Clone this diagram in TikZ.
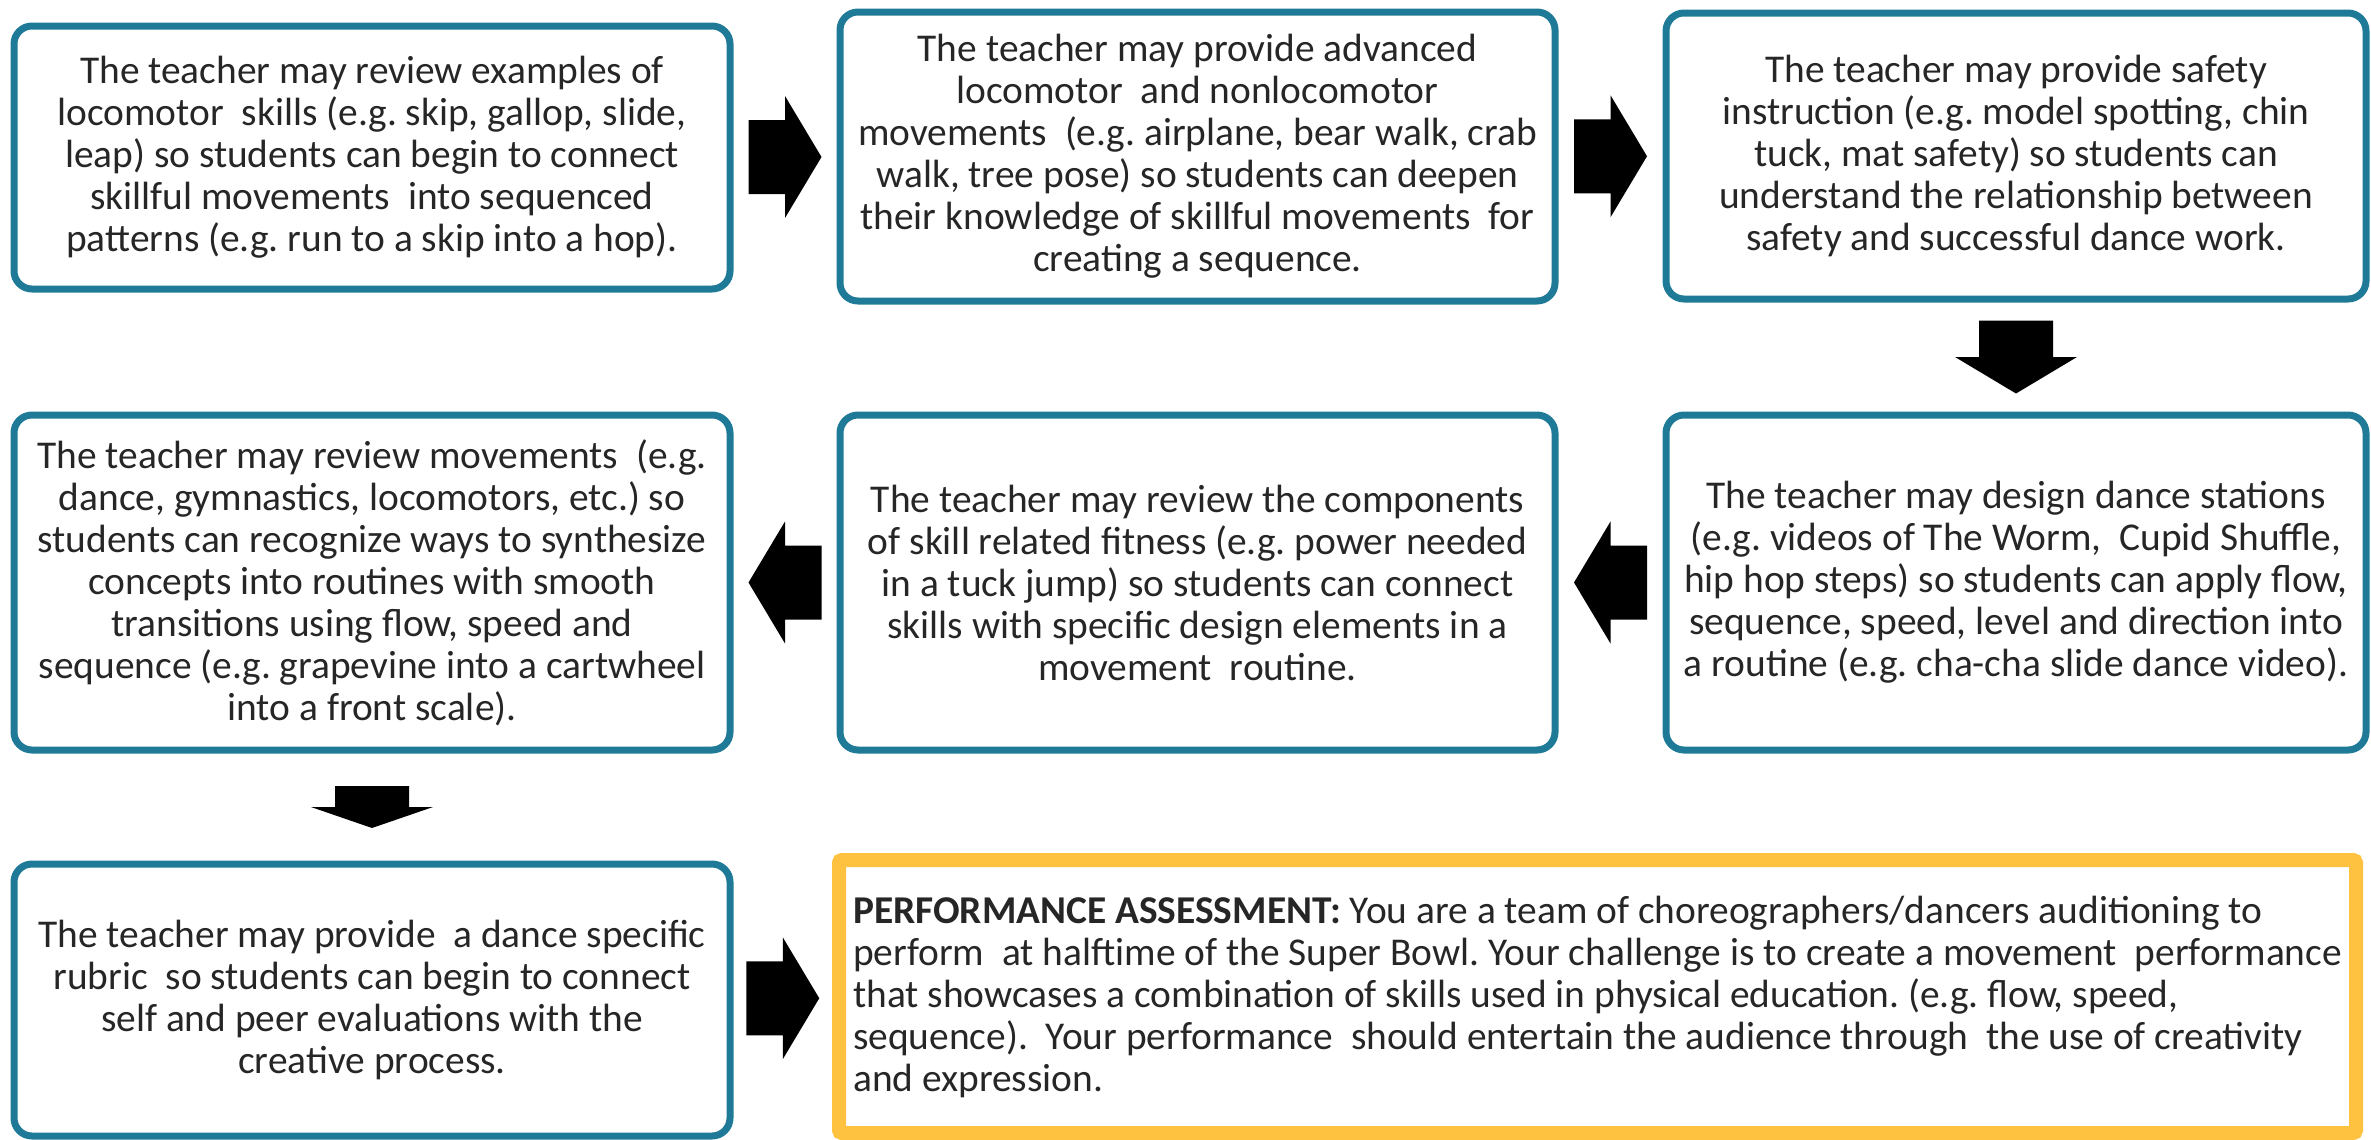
\documentclass[tikz,border=0pt]{standalone}
\usepackage{fontspec}
\setmainfont{Carlito}
\usetikzlibrary{calc}
\definecolor{boxblue}{RGB}{31,122,152}
\definecolor{boxorange}{RGB}{255,193,64}
\definecolor{textgray}{RGB}{38,38,38}
\newcommand{\bodyfont}{\fontsize{19.7}{21}\selectfont\frenchspacing\hyphenpenalty=10000\exhyphenpenalty=10000}
\tikzset{
  stepbox/.style={draw=boxblue, line width=3.5pt, rounded corners=9pt, fill=white,
    align=center, inner sep=0pt, font=\bodyfont, text=textgray},
  assessbox/.style={draw=boxorange, line width=7pt, rounded corners=1.5pt, fill=white,
    align=left, inner sep=0pt, font=\bodyfont, text=textgray},
  blockarrow/.pic={\fill[black] (-36.5,-37) -- (0,-37) -- (0,-61) -- (36.5,0) -- (0,61) -- (0,37) -- (-36.5,37) -- cycle;}
}
\begin{document}
\begin{tikzpicture}[x=0.5pt,y=-0.5pt]
\useasboundingbox[fill=white] (0,0) rectangle (2371,1140);

\node[stepbox, minimum width=358pt, minimum height=131.5pt] (b1) at (372,157.5)
  {The teacher may review examples of\\
   locomotor\ \ skills (e.g. skip, gallop, slide,\\
   leap) so students can begin to connect\\
   skillful movements\ \ into sequenced\\
   patterns (e.g. run to a skip into a hop).};

\node[stepbox, minimum width=357.5pt, minimum height=144.5pt] (b2) at (1197.5,156.5)
  {The teacher may provide advanced\\
   locomotor\ \ and nonlocomotor\\
   movements\ \ (e.g. airplane, bear walk, crab\\
   walk, tree pose) so students can deepen\\
   their knowledge of skillful movements\ \ for\\
   creating a sequence.};

\node[stepbox, minimum width=350pt, minimum height=143pt] (b3) at (2016,156)
  {The teacher may provide safety\\
   instruction (e.g. model spotting, chin\\
   tuck, mat safety) so students can\\
   understand the relationship between\\
   safety and successful dance work.};

\node[stepbox, minimum width=358pt, minimum height=167.5pt] (b4) at (372,582.5)
  {The teacher may review movements\ \ (e.g.\\
   dance, gymnastics, locomotors, etc.) so\\
   students can recognize ways to synthesize\\
   concepts into routines with smooth\\
   transitions using flow, speed and\\
   sequence (e.g. grapevine into a cartwheel\\
   into a front scale).};

\node[stepbox, minimum width=357.5pt, minimum height=167.5pt] (b5) at (1197.5,582.5)
  {The teacher may review the components\\
   of skill related fitness (e.g. power needed\\
   in a tuck jump) so students can connect\\
   skills with specific design elements in a\\
   movement\ \ routine.};

\node[stepbox, minimum width=350pt, minimum height=167.5pt] (b6) at (2016,582.5)
  {The teacher may design dance stations\\
   (e.g. videos of The Worm,\ \ Cupid Shuffle,\\
   hip hop steps) so students can apply flow,\\
   sequence, speed, level and direction into\\
   a routine (e.g. cha-cha slide dance video).};

\node[stepbox, minimum width=358pt, minimum height=136pt] (b7) at (372,1000)
  {The teacher may provide\ \ a dance specific\\
   rubric\ \ so students can begin to connect\\
   self and peer evaluations with the\\
   creative process.};

\node[assessbox, minimum width=758.5pt, minimum height=136.5pt] (b8) at (1597.5,996.5)
  {\textbf{PERFORMANCE ASSESSMENT:} You are a team of choreographers/dancers auditioning to\\
   perform\ \ at halftime of the Super Bowl. Your challenge is to create a movement\ \ performance\\
   that showcases a combination of skills used in physical education. (e.g. flow, speed,\\
   sequence).\ \ Your performance\ \ should entertain the audience through\ \ the use of creativity\\
   and expression.};

\coordinate (m12) at ($(b1.east)!0.5!(b2.west)$);
\coordinate (m23) at ($(b2.east)!0.5!(b3.west)$);
\coordinate (m36) at ($(b3.south)!0.5!(b6.north)$);
\coordinate (m65) at ($(b6.west)!0.5!(b5.east)$);
\coordinate (m54) at ($(b5.west)!0.5!(b4.east)$);
\coordinate (m47) at ($(b4.south)!0.5!(b7.north)$);
\coordinate (m78) at ($(b7.east)!0.5!(b8.west)$);

\pic at (m12) {blockarrow};
\pic at (m23) {blockarrow};
\pic[rotate=-90] at (m36) {blockarrow};
\pic[rotate=180] at (m65) {blockarrow};
\pic[rotate=180] at (m54) {blockarrow};
\pic[rotate=-90,xscale=0.575] at (m47) {blockarrow};
\pic at (m78) {blockarrow};
\end{tikzpicture}
\end{document}
